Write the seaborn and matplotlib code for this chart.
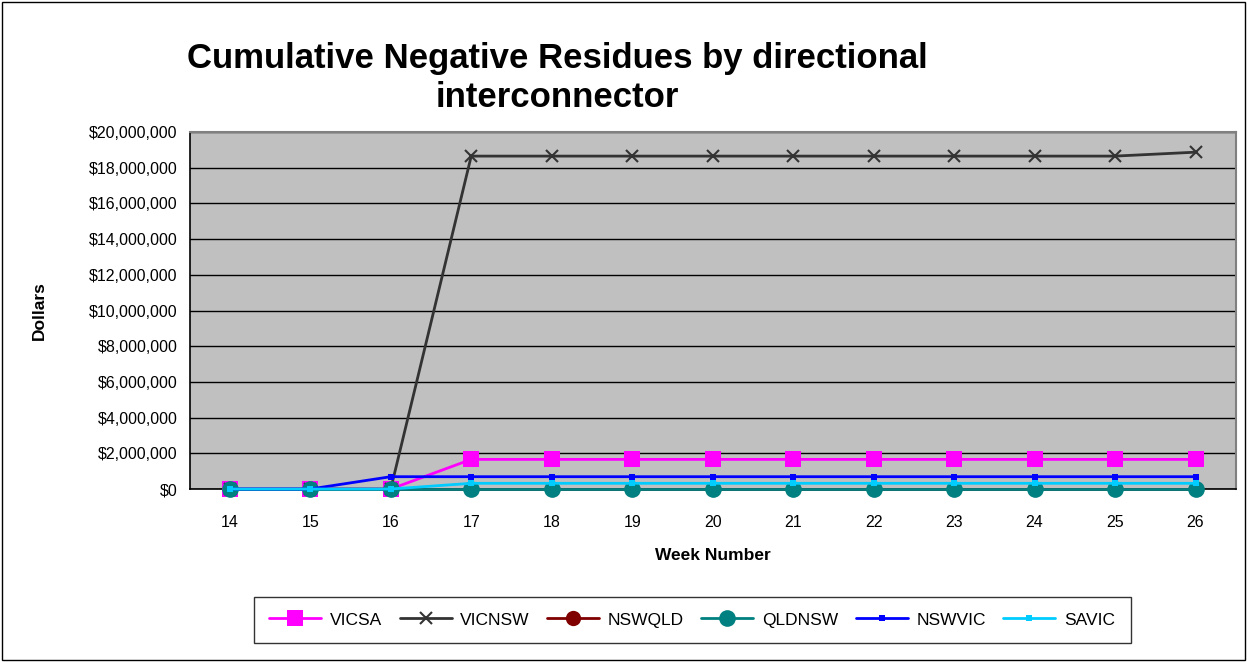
import numpy as np
import pandas as pd
import matplotlib
matplotlib.use("Agg")
import matplotlib.pyplot as plt
import seaborn as sns
from matplotlib.ticker import FuncFormatter, FixedLocator

# ── Données ─────────────────────────────────────────────────────────────────
weeks  = [14, 15, 16, 17, 18, 19, 20, 21, 22, 23, 24, 25, 26]
vicsa  = [0, 0, 0, 1660000, 1660000, 1660000, 1660000, 1660000, 1660000, 1660000, 1660000, 1660000, 1660000]
vicnsw = [0, 0, 0, 18650000, 18650000, 18650000, 18650000, 18650000, 18650000, 18650000, 18650000, 18650000, 18870000]
nswqld = [0, 0, 0, 0, 0, 0, 0, 0, 0, 0, 0, 0, 0]
qldnsw = [0, 0, 0, 0, 0, 0, 0, 0, 0, 0, 0, 0, 0]
nswvic = [0, 0, 690000, 690000, 690000, 690000, 690000, 690000, 690000, 690000, 690000, 690000, 690000]
savic  = [0, 0, 0, 320000, 320000, 320000, 320000, 320000, 320000, 320000, 320000, 320000, 320000]

series = {
    "VICSA":  vicsa,
    "VICNSW": vicnsw,
    "NSWQLD": nswqld,
    "QLDNSW": qldnsw,
    "NSWVIC": nswvic,
    "SAVIC":  savic,
}
styles = {
    "VICSA":  dict(color="#FF00FF", marker="s", markersize=11, mew=0),
    "VICNSW": dict(color="#333333", marker="x", markersize=9, mew=1.5),
    "NSWQLD": dict(color="#800000", marker="o", markersize=11, mew=0),
    "QLDNSW": dict(color="#008080", marker="o", markersize=12, mew=0),
    "NSWVIC": dict(color="#0000FF", marker="s", markersize=4, mew=0),
    "SAVIC":  dict(color="#00CCFF", marker="s", markersize=4, mew=0),
}

# ── Figure ──────────────────────────────────────────────────────────────────
sns.set_style("white")
plt.rcParams["font.family"] = ["Liberation Sans", "DejaVu Sans"]
plt.rcParams["text.color"] = "black"
plt.rcParams["axes.labelcolor"] = "black"
plt.rcParams["xtick.color"] = "black"
plt.rcParams["ytick.color"] = "black"

fig = plt.figure(figsize=(12.47, 6.62), dpi=100)
ax = fig.add_axes([0.152, 0.2613, 0.839, 0.5393])
ax.set_facecolor("#C0C0C0")

pos = np.arange(len(weeks))
for name, vals in series.items():
    st = styles[name]
    sns.lineplot(x=pos, y=vals, ax=ax, color=st["color"], linewidth=2,
                 marker=st["marker"], markersize=st["markersize"],
                 markeredgewidth=st["mew"], markeredgecolor=st["color"],
                 label=name, clip_on=False, zorder=3)

ax.set_xlim(-0.5, len(weeks) - 0.5)
ax.set_ylim(0, 20000000)
ax.yaxis.set_major_locator(FixedLocator(np.arange(0, 20000001, 2000000)))
ax.yaxis.set_major_formatter(FuncFormatter(lambda v, p: f"${v:,.0f}"))
ax.set_xticks(pos)
ax.set_xticklabels([str(w) for w in weeks])
ax.set_xticks(np.arange(-0.5, len(weeks), 1), minor=True)
ax.tick_params(axis="x", which="major", length=0, pad=19, labelsize=11.5)
ax.tick_params(axis="x", which="minor", length=5, width=1, color="black", direction="out")
ax.tick_params(axis="y", which="major", length=5, width=1, color="black", direction="out", labelsize=11.5)
ax.grid(axis="y", color="black", linewidth=1)
ax.set_axisbelow(True)
for side in ["top", "right"]:
    ax.spines[side].set_color("#808080")
    ax.spines[side].set_linewidth(1.5)
for side in ["left", "bottom"]:
    ax.spines[side].set_color("black")
    ax.spines[side].set_linewidth(1.2)

ax.set_xlabel("Week Number", fontsize=12.5, fontweight="bold", labelpad=13)
ax.set_ylabel("Dollars", fontsize=12.5, fontweight="bold", labelpad=30)

fig.text(0.447, 0.882, "Cumulative Negative Residues by directional\ninterconnector",
         ha="center", va="center", fontsize=25, fontweight="bold", linespacing=1.22)

leg = ax.legend(loc="center", bbox_to_anchor=(0.555, 0.0635), bbox_transform=fig.transFigure,
                ncol=6, frameon=True, fontsize=12.5, handlelength=3, columnspacing=1.0,
                handletextpad=0.5, fancybox=False, borderpad=0.9)
leg.get_frame().set_edgecolor("black")
leg.get_frame().set_linewidth(1)

fig.patches.append(plt.Rectangle((0.002, 0.003), 0.996, 0.994, transform=fig.transFigure,
                                 fill=False, edgecolor="black", linewidth=1))

fig.savefig("out.png", dpi=100)
